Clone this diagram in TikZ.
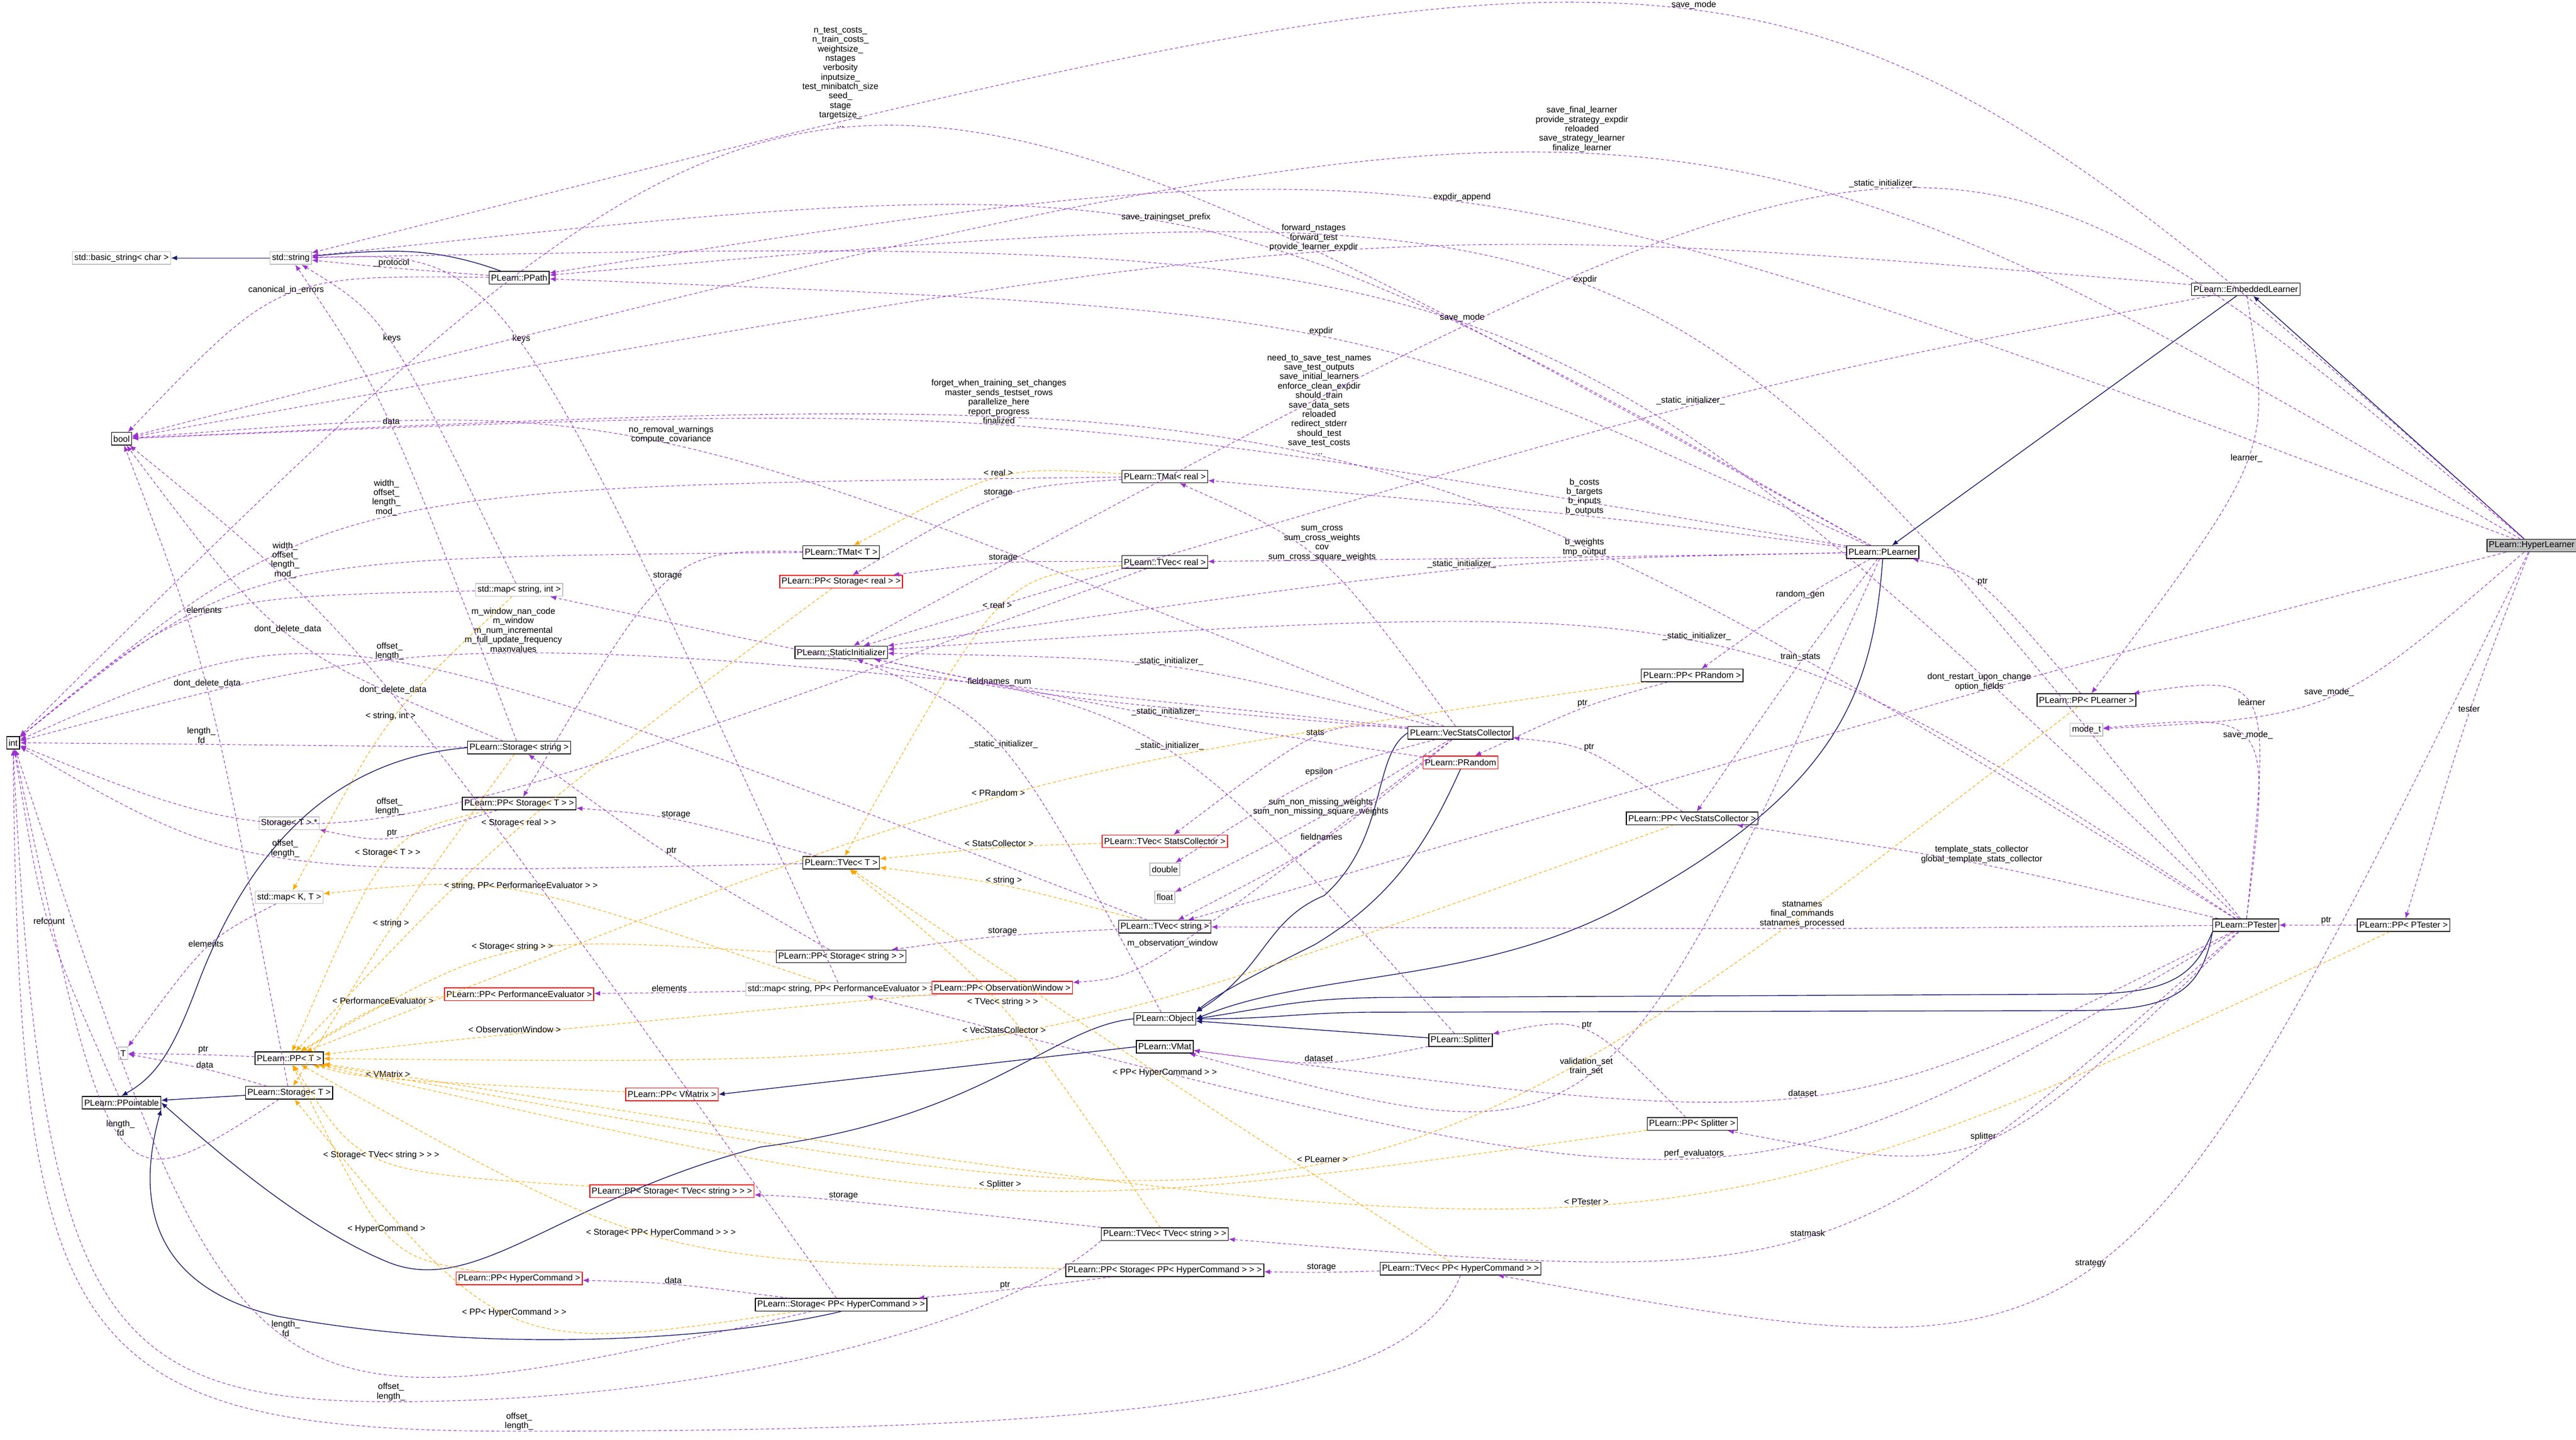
\documentclass[tikz,border=0pt]{standalone}
\usepackage{fontspec}
\setmainfont{Liberation Sans}
\usetikzlibrary{calc,arrows.meta}
\definecolor{vio}{HTML}{9A32CD}
\definecolor{org}{HTML}{FFA500}
\definecolor{nav}{HTML}{191970}
\definecolor{gry}{HTML}{BFBFBF}
\newcommand\lnk[5][]{\draw[#1] (#2) .. controls ($1.3333*(#4)-0.16667*(#2)-0.16667*(#3)$) .. (#3) node[lbl,pos=.5,anchor=south]{#5};}
\begin{document}
\begin{tikzpicture}[x=0.03cm,y=-0.03cm,
  box/.style={draw=black,line width=0.4pt,font=\fontsize{4.5}{4.9}\selectfont,inner xsep=1pt,inner ysep=1.2pt,minimum height=0.23cm,fill=white},
  gbox/.style={box,draw=gry},
  rbox/.style={box,draw=red},
  lbl/.style={font=\fontsize{4.5}{4.9}\selectfont,align=center,inner sep=0.4pt,text=black},
  use/.style={draw=vio,dashed,dash pattern=on 1.6pt off 1.2pt,line width=0.3pt,-{Latex[length=1.1mm,width=0.9mm]}},
  tpl/.style={draw=org,dashed,dash pattern=on 1.6pt off 1.2pt,line width=0.3pt,-{Latex[length=1.1mm,width=0.9mm]}},
  inh/.style={draw=nav,line width=0.4pt,-{Latex[length=1.1mm,width=0.9mm]}}]
\useasboundingbox (0,0) rectangle (1568,876);
% nodes
\node[gbox] (basic) at (74,157) {std::basic\_string< char >};
\node[gbox] (str) at (177,157) {std::string};
\node[box] (ppath) at (316,169) {PLearn::PPath};
\node[box] (bool) at (74,267) {bool};
\node[box] (int) at (8,452) {int};
\node[box] (tmatT) at (512,336) {PLearn::TMat< T >};
\node[rbox] (ppstoreal) at (512,354) {PLearn::PP< Storage< real > >};
\node[gbox] (mapsi) at (316,359) {std::map< string, int >};
\node[box] (statinit) at (512,397) {PLearn::StaticInitializer};
\node[box] (tmatreal) at (709,290) {PLearn::TMat< real >};
\node[box] (tvecreal) at (709,342) {PLearn::TVec< real >};
\node[box] (stostr) at (316,455) {PLearn::Storage< string >};
\node[box] (ppstoT) at (316,489) {PLearn::PP< Storage< T > >};
\node[gbox] (stoTstar) at (176,501) {Storage< T > *};
\node[gbox] (mapKT) at (176,546) {std::map< K, T >};
\node[box] (tvecT) at (512,525) {PLearn::TVec< T >};
\node[rbox] (tvecsc) at (709,512) {PLearn::TVec< StatsCollector >};
\node[gbox] (double) at (709,529) {double};
\node[gbox] (float) at (709,546) {float};
\node[box] (tvecstr) at (709,564) {PLearn::TVec< string >};
\node[box] (ppstostr) at (512,582) {PLearn::PP< Storage< string > >};
\node[gbox] (mapspe) at (512,602) {std::map< string, PP< PerformanceEvaluator > >};
\node[rbox] (pppe) at (316,605) {PLearn::PP< PerformanceEvaluator >};
\node[rbox] (ppow) at (610,601) {PLearn::PP< ObservationWindow >};
\node[gbox] (T) at (75,641) {T};
\node[box] (ppT) at (176,644) {PLearn::PP< T >};
\node[box] (ppointable) at (74,671) {PLearn::PPointable};
\node[box] (stoT) at (176,665) {PLearn::Storage< T >};
\node[rbox] (ppvmatrix) at (409,666) {PLearn::PP< VMatrix >};
\node[box] (object) at (709,620) {PLearn::Object};
\node[box] (vmat) at (709,637) {PLearn::VMat};
\node[box] (splitter) at (889,633) {PLearn::Splitter};
\node[rbox] (ppstotvec) at (409,725) {PLearn::PP< Storage< TVec< string > > >};
\node[box] (tvectvec) at (709,751) {PLearn::TVec< TVec< string > >};
\node[rbox] (pphc) at (316,778) {PLearn::PP< HyperCommand >};
\node[box] (ppstophc) at (709,773) {PLearn::PP< Storage< PP< HyperCommand > > >};
\node[box] (stophc) at (512,794) {PLearn::Storage< PP< HyperCommand > >};
\node[box] (tvecphc) at (889,772) {PLearn::TVec< PP< HyperCommand > >};
\node[box] (vsc) at (889,446) {PLearn::VecStatsCollector};
\node[rbox] (prandom) at (889,464) {PLearn::PRandom};
\node[box] (pprandom) at (1030,411) {PLearn::PP< PRandom >};
\node[box] (ppvsc) at (1030,498) {PLearn::PP< VecStatsCollector >};
\node[box] (plearner) at (1146,336) {PLearn::PLearner};
\node[box] (embedded) at (1367,176) {PLearn::EmbeddedLearner};
\node[box,fill=gry] (hyper) at (1541,332) {PLearn::HyperLearner};
\node[box] (pplearner) at (1270,426) {PLearn::PP< PLearner >};
\node[gbox] (modet) at (1270,444) {mode\_t};
\node[box] (ptester) at (1367,563) {PLearn::PTester};
\node[box] (pptester) at (1463,563) {PLearn::PP< PTester >};
\node[box] (ppsplitter) at (1030,684) {PLearn::PP< Splitter >};

% inheritance
\draw[inh] (str) -- (basic);
\draw[inh] (ppath) to[out=160,in=5] (str);
\draw[inh] (embedded) -- (plearner);
\draw[inh] (hyper) -- (embedded);
\draw[inh] (plearner.south) .. controls (1140,420) and (1120,480) .. (991,550) .. controls (900,600) and (800,590) .. (object.east);
\draw[inh] (vsc.west) .. controls (835,460) and (845,510) .. (806,545) .. controls (770,560) and (770,590) .. (object.north east);
\draw[inh] (prandom.south) .. controls (870,510) and (850,545) .. (800,575) .. controls (770,590) and (740,605) .. (object.north east);
\draw[inh] (ptester.south west) .. controls (1335,595) and (1320,605) .. (1265,605) -- (840,607) .. controls (790,608) and (780,612) .. (object.east);
\draw[inh] (ptester.south west) .. controls (1340,605) and (1320,615) .. (1265,615) -- (840,616) .. controls (790,616) and (780,620) .. (object.east);
\draw[inh] (splitter) -- (object);
\draw[inh] (object.west) .. controls (640,625) and (600,680) .. (463,698) .. controls (340,730) and (290,790) .. (236,768) .. controls (180,745) and (120,690) .. (ppointable.east);
\draw[inh] (stostr.west) .. controls (200,462) and (150,520) .. (120,600) .. controls (105,640) and (95,655) .. (ppointable.north);
\draw[inh] (stoT) -- (ppointable);
\draw[inh] (stophc.south) .. controls (440,815) and (300,825) .. (169,801) .. controls (100,785) and (80,740) .. (ppointable.south east);
\draw[inh] (vmat.west) -- (ppvmatrix.east);

% usage links
\lnk[use]{ppath}{str}{239,163}{\_protocol}
\lnk[use]{ppath}{bool}{176,180}{canonical\_in\_errors}
\lnk[use]{mapsi}{str}{238,209}{keys}
\lnk[use]{mapspe}{str}{316,210}{keys}
\lnk[use]{stostr}{str}{238,259}{data}
\lnk[use]{vsc}{bool}{409,271}{no\_removal\_warnings\\compute\_covariance}
\lnk[use]{tmatreal}{int}{238,315}{width\_\\offset\_\\length\_\\mod\_}
\lnk[use]{tmatT}{int}{176,353}{width\_\\offset\_\\length\_\\mod\_}
\lnk[use]{mapsi}{int}{127,374}{elements}
\lnk[use]{stostr}{bool}{176,386}{dont\_delete\_data}
\lnk[use]{stoT}{bool}{126,419}{dont\_delete\_data}
\lnk[use]{stophc}{bool}{239,423}{dont\_delete\_data}
\lnk[use]{tvecstr}{int}{238,403}{offset\_\\length\_}
\lnk[use]{stostr}{int}{126,453}{length\_\\fd}
\lnk[use]{vsc}{int}{316,398}{m\_window\_nan\_code\\m\_window\\m\_num\_incremental\\m\_full\_update\_frequency\\maxnvalues}
\lnk[use]{tvecT}{int}{176,522}{offset\_\\length\_}
\lnk[use]{tvecreal}{int}{238,496}{offset\_\\length\_}
\lnk[use]{tmatreal}{ppstoreal}{610,303}{storage}
\lnk[use]{tvecreal}{ppstoreal}{610,343}{storage}
\lnk[use]{tmatT}{ppstoT}{409,354}{storage}
\lnk[use]{tvecT}{ppstoT}{409,499}{storage}
\lnk[use]{ppstoT}{stoTstar}{238,509}{ptr}
\lnk[use]{ppstostr}{stostr}{409,521}{ptr}
\lnk[use]{tvecstr}{ppstostr}{610,570}{storage}
\lnk[use]{ppointable}{int}{30,563}{refcount}
\lnk[use]{mapKT}{T}{126,577}{elements}
\lnk[use]{ppT}{T}{126,642}{ptr}
\lnk[use]{stoT}{T}{126,651}{data}
\lnk[use]{stoT}{int}{74,691}{length\_\\fd}
\lnk[use]{mapspe}{pppe}{409,604}{elements}
\lnk[use]{tvectvec}{ppstotvec}{512,731}{storage}
\lnk[use]{stophc}{pphc}{409,782}{data}
\lnk[use]{ppstophc}{stophc}{610,785}{ptr}
\lnk[use]{stophc}{int}{176,813}{length\_\\fd}
\draw[use] (tvectvec.south west) .. controls (620,800) and (450,853) .. (238,853) node[lbl,anchor=south,pos=1]{offset\_\\length\_} .. controls (60,853) and (25,800) .. (int.south);
\draw[use] (tvecphc.south) .. controls (860,850) and (700,871) .. (316,871) node[lbl,anchor=south,pos=1]{offset\_\\length\_} .. controls (40,871) and (12,820) .. (int.south);
\lnk[use]{tvecphc}{ppstophc}{803,774}{storage}
\lnk[use]{plearner}{int}{512,79}{n\_test\_costs\_\\n\_train\_costs\_\\weightsize\_\\nstages\\verbosity\\inputsize\_\\test\_minibatch\_size\\seed\_\\stage\\targetsize\_\\...}
\lnk[use]{hyper}{str}{1030,7}{save\_mode}
\lnk[use]{hyper}{bool}{963,94}{save\_final\_learner\\provide\_strategy\_expdir\\reloaded\\save\_strategy\_learner\\finalize\_learner}
\lnk[use]{hyper}{ppath}{889,124}{expdir\_append}
\lnk[use]{plearner}{str}{709,136}{save\_trainingset\_prefix}
\lnk[use]{embedded}{bool}{803,154}{forward\_nstages\\forward\_test\\provide\_learner\_expdir}
\lnk[use]{ptester}{ppath}{963,174}{expdir}
\lnk[use]{ptester}{str}{889,197}{save\_mode}
\lnk[use]{plearner}{ppath}{803,205}{expdir}
\lnk[use]{ptester}{bool}{803,278}{need\_to\_save\_test\_names\\save\_test\_outputs\\save\_initial\_learners\\enforce\_clean\_expdir\\should\_train\\save\_data\_sets\\reloaded\\redirect\_stderr\\should\_test\\save\_test\_costs\\...}
\lnk[use]{plearner}{bool}{610,259}{forget\_when\_training\_set\_changes\\master\_sends\_testset\_rows\\parallelize\_here\\report\_progress\\finalized}
\lnk[use]{hyper}{statinit}{1146,116}{\_static\_initializer\_}
\lnk[use]{embedded}{statinit}{1030,247}{\_static\_initializer\_}
\lnk[use]{plearner}{statinit}{889,347}{\_static\_initializer\_}
\lnk[use]{ptester}{statinit}{1030,391}{\_static\_initializer\_}
\lnk[use]{vsc}{statinit}{710,406}{\_static\_initializer\_}
\lnk[use]{vsc}{mapsi}{610,418}{fieldnames\_num}
\lnk[use]{prandom}{statinit}{710,436}{\_static\_initializer\_}
\lnk[use]{object}{statinit}{610,456}{\_static\_initializer\_}
\lnk[use]{splitter}{statinit}{710,457}{\_static\_initializer\_}
\lnk[use]{vsc}{tmatreal}{804,342}{sum\_cross\\sum\_cross\_weights\\cov\\sum\_cross\_square\_weights}
\lnk[use]{plearner}{tmatreal}{964,314}{b\_costs\\b\_targets\\b\_inputs\\b\_outputs}
\lnk[use]{plearner}{tvecreal}{964,339}{b\_weights\\tmp\_output}
\lnk[use]{vsc}{tvecsc}{804,449}{stats}
\lnk[use]{vsc}{double}{804,473}{epsilon}
\lnk[use]{vsc}{float}{804,497}{sum\_non\_missing\_weights\\sum\_non\_missing\_square\_weights}
\lnk[use]{vsc}{tvecstr}{804,512}{fieldnames}
\lnk[use]{vsc}{ppow}{709,577}{m\_observation\_window}
\lnk[use]{pprandom}{prandom}{964,431}{ptr}
\lnk[use]{ppvsc}{vsc}{964,458}{ptr}
\lnk[use]{ppsplitter}{splitter}{964,628}{ptr}
\lnk[use]{splitter}{vmat}{803,646}{dataset}
\lnk[use]{plearner}{vmat}{964,654}{validation\_set\\train\_set}
\lnk[use]{ptester}{vmat}{1096,667}{dataset}
\lnk[use]{plearner}{pprandom}{1096,365}{random\_gen}
\lnk[use]{plearner}{ppvsc}{1096,403}{train\_stats}
\lnk[use]{embedded}{pplearner}{1367,282}{learner\_}
\lnk[use]{pplearner}{plearner}{1205,357}{ptr}
\lnk[use]{hyper}{tvecstr}{1205,421}{dont\_restart\_upon\_change\\option\_fields}
\lnk[use]{hyper}{modet}{1417,424}{save\_mode\_}
\lnk[use]{ptester}{pplearner}{1367,431}{learner}
\lnk[use]{hyper}{pptester}{1503,434}{tester}
\lnk[use]{ptester}{modet}{1367,451}{save\_mode\_}
\lnk[use]{ptester}{ppvsc}{1205,526}{template\_stats\_collector\\global\_template\_stats\_collector}
\lnk[use]{ptester}{tvecstr}{1096,565}{statnames\\final\_commands\\statnames\_processed}
\lnk[use]{pptester}{ptester}{1417,563}{ptr}
\lnk[use]{ptester}{ppsplitter}{1205,694}{splitter}
\lnk[use]{ptester}{mapspe}{1030,704}{perf\_evaluators}
\lnk[use]{ptester}{tvectvec}{1096,752}{statmask}
\lnk[use]{hyper}{tvecphc}{1270,771}{strategy}
% template links
\lnk[tpl]{tmatreal}{tmatT}{610,291}{< real >}
\lnk[tpl]{tvecreal}{tvecT}{610,371}{< real >}
\lnk[tpl]{tvecsc}{tvecT}{610,516}{< StatsCollector >}
\lnk[tpl]{tvecstr}{tvecT}{610,539}{< string >}
\lnk[tpl]{tvectvec}{tvecT}{610,613}{< TVec< string > >}
\lnk[tpl]{tvecphc}{tvecT}{709,656}{< PP< HyperCommand > >}
\lnk[tpl]{ppstoreal}{ppT}{316,504}{< Storage< real > >}
\lnk[tpl]{ppstoT}{ppT}{238,522}{< Storage< T > >}
\lnk[tpl]{mapspe}{mapKT}{316,543}{< string, PP< PerformanceEvaluator > >}
\lnk[tpl]{stostr}{stoT}{238,565}{< string >}
\lnk[tpl]{ppstostr}{ppT}{316,580}{< Storage< string > >}
\lnk[tpl]{pppe}{ppT}{238,612}{< PerformanceEvaluator >}
\lnk[tpl]{ppow}{ppT}{316,629}{< ObservationWindow >}
\lnk[tpl]{ppvmatrix}{ppT}{238,656}{< VMatrix >}
\lnk[tpl]{ppstotvec}{ppT}{238,706}{< Storage< TVec< string > > >}
\lnk[tpl]{pphc}{ppT}{238,751}{< HyperCommand >}
\lnk[tpl]{ppstophc}{ppT}{409,753}{< Storage< PP< HyperCommand > > >}
\lnk[tpl]{stophc}{stoT}{316,801}{< PP< HyperCommand > >}
\lnk[tpl]{pprandom}{ppT}{610,485}{< PRandom >}
\lnk[tpl]{ppvsc}{ppT}{610,629}{< VecStatsCollector >}
\lnk[tpl]{pplearner}{ppT}{803,707}{< PLearner >}
\lnk[tpl]{pptester}{ppT}{964,733}{< PTester >}
\lnk[tpl]{ppsplitter}{ppT}{610,723}{< Splitter >}
\lnk[tpl]{mapsi}{mapKT}{238,439}{< string, int >}
\end{tikzpicture}
\end{document}
